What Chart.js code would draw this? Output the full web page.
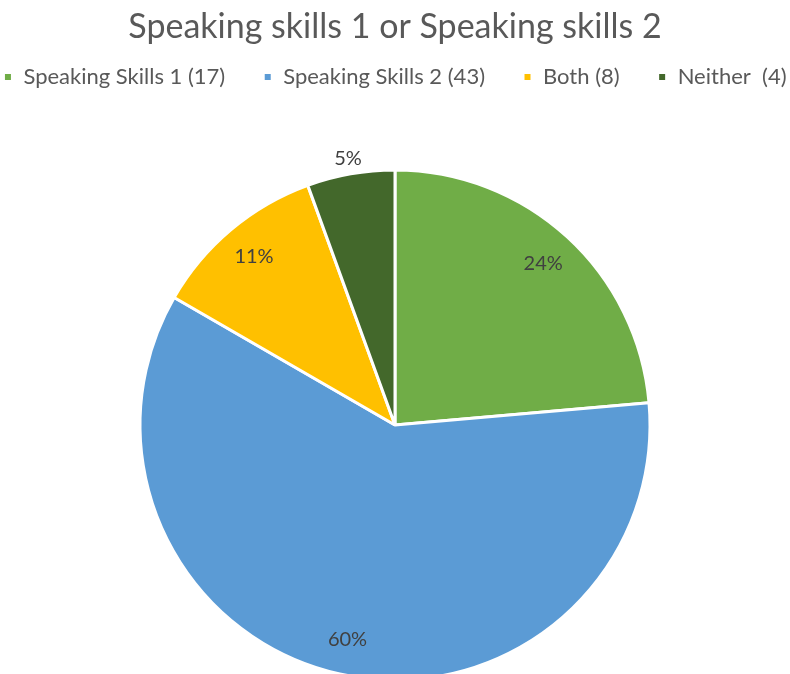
<!DOCTYPE html>
<html>
<head>
<meta charset="utf-8">
<script src="https://cdn.jsdelivr.net/npm/chart.js@4/dist/chart.umd.min.js"></script>
<style>
  html, body { margin: 0; padding: 0; background: #fff; overflow: hidden; width: 790px; height: 674px; }
  #wrap { width: 900px; height: 752px; position: absolute; left: -55px; top: 0; }
</style>
</head>
<body>
<div id="wrap"><canvas id="grafico"></canvas></div>
<script>
const categorias = ["Speaking Skills 1 (17)", "Speaking Skills 2 (43)", "Both (8)", "Neither  (4)"];
const respostas = [17, 43, 8, 4];
const cores = ["#70AD47", "#5B9BD5", "#FFC000", "#43682B"];

// percentages rounded so they add up to 100 (largest remainder)
function porcentagens(valores) {
  const total = valores.reduce((a, b) => a + b, 0);
  const brutos = valores.map(v => v * 100 / total);
  const base = brutos.map(Math.floor);
  const falta = 100 - base.reduce((a, b) => a + b, 0);
  const ordem = brutos.map((b, i) => [b - Math.floor(b), i]).sort((a, b) => b[0] - a[0]);
  for (let k = 0; k < falta; k++) base[ordem[k][1]]++;
  return base;
}
const pct = porcentagens(respostas);

const fonte = "Lato, 'Open Sans', sans-serif";

// percent labels: inside the slice, or just outside when the slice is thin
const rotulos = {
  id: "rotulos",
  afterDatasetsDraw(chart) {
    const { ctx } = chart;
    const meta = chart.getDatasetMeta(0);
    const total = respostas.reduce((a, b) => a + b, 0);
    ctx.save();
    ctx.font = "20px " + fonte;
    ctx.fillStyle = "#404040";
    ctx.textAlign = "center";
    ctx.textBaseline = "middle";
    meta.data.forEach((arc, i) => {
      const { x, y, startAngle, endAngle, outerRadius } = arc.getProps(["x", "y", "startAngle", "endAngle", "outerRadius"], true);
      const meio = (startAngle + endAngle) / 2;
      const fator = respostas[i] / total < 0.08 ? 1.06 : 0.86;
      ctx.fillText(pct[i] + "%", x + Math.cos(meio) * outerRadius * fator, y + Math.sin(meio) * outerRadius * fator);
    });
    ctx.restore();
  }
};

new Chart(document.getElementById("grafico"), {
  type: "pie",
  data: {
    labels: categorias,
    datasets: [{
      data: respostas,
      backgroundColor: cores,
      borderColor: "#fff",
      borderWidth: 3,
      radius: 255
    }]
  },
  options: {
    responsive: true,
    maintainAspectRatio: false,
    animation: false,
    layout: { padding: 0 },
    plugins: {
      title: {
        display: true,
        text: "Speaking skills 1 or Speaking skills 2",
        color: "#595959",
        font: { family: fonte, size: 34, weight: "normal" },
        padding: { top: 6.6, bottom: -19.4 }
      },
      legend: {
        position: "top",
        labels: {
          color: "#595959",
          font: { family: fonte, size: 22 },
          usePointStyle: true,
          pointStyle: "rect",
          boxWidth: 9,
          boxHeight: 9,
          padding: 38
        }
      },
      tooltip: { enabled: false }
    }
  },
  plugins: [rotulos]
});
</script>
</body>
</html>
